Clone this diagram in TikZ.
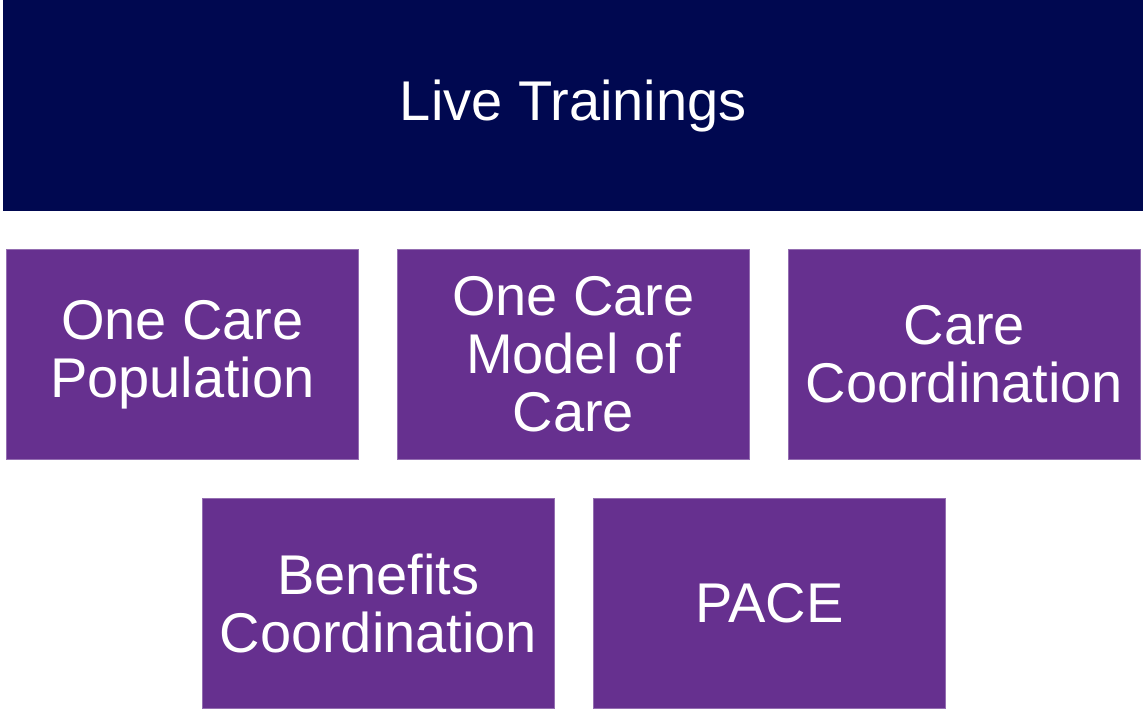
\documentclass[tikz,border=0pt]{standalone}
\usepackage{fontspec}
\setmainfont{Liberation Sans}
\definecolor{navy}{RGB}{0,8,80}
\definecolor{purp}{RGB}{102,48,143}
\begin{document}
\begin{tikzpicture}[x=1pt,y=1pt,
  box/.style={fill=purp, draw=purp!70!white, line width=0.8pt, minimum width=352pt, minimum height=210pt, inner sep=0pt, text=white, align=center, font=\fontsize{56}{58}\selectfont, anchor=north west},
  topbox/.style={fill=navy, draw=none, minimum width=1140pt, minimum height=211pt, inner sep=0pt, text=white, font=\fontsize{56}{58}\selectfont, anchor=north west}]
\useasboundingbox (0,0) rectangle (1143,709);
\node[topbox] (live) at (3,709) {\raisebox{-3pt}{Live Trainings}};
\node[box] (pop) at (6,460) {One Care\\Population};
\node[box] (model) at (397,460) {One Care\\Model of\\Care};
\node[box] (cc) at (788,460) {Care\\Coordination};
\node[box] (ben) at (202,211) {Benefits\\Coordination};
\node[box] (pace) at (593,211) {PACE};
\end{tikzpicture}
\end{document}
